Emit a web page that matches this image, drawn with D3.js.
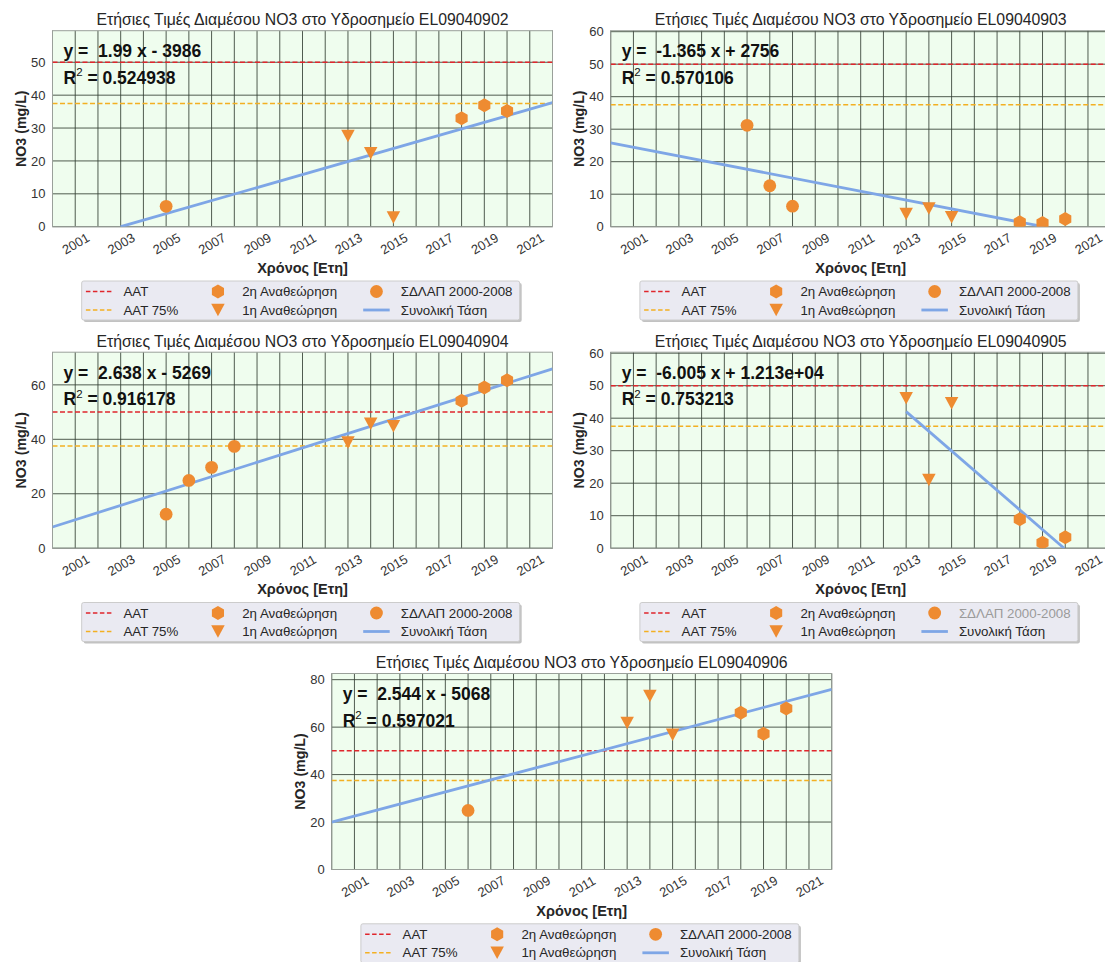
<!DOCTYPE html>
<html>
<head>
<meta charset="utf-8">
<script src="https://cdn.jsdelivr.net/npm/d3@7"></script>
<style>
  body { margin: 0; background: #ffffff; }
  svg { display: block; font-family: "Liberation Sans", Arial, sans-serif; }
</style>
</head>
<body>
<svg id="chart" width="1105" height="962"></svg>
<script>
// ---------------- DATA ----------------
const stations = ["EL09040902", "EL09040903", "EL09040904", "EL09040905", "EL09040906"];
const sdlapYears  = [[2005], [2006, 2007, 2008], [2005, 2006, 2007, 2008], [], [2006]];
const sdlapValues = [[6.2], [31.2, 12.6, 6.3], [12.5, 24.9, 29.7, 37.4], [], [24.9]];
const rev1Years = [2013, 2014, 2015];
const rev1Values = [[27.6, 22.3, 2.8], [3.9, 5.6, 2.9], [38.8, 45.7, 44.8], [46.1, 21.0, 44.6], [61.7, 73.1, 56.8]];
const rev2Years = [2018, 2019, 2020];
const rev2Values = [[33.0, 36.9, 35.2], [1.4, 1.1, 2.4], [54.2, 59.0, 61.7], [8.9, 1.7, 3.4], [66.1, 57.2, 67.8]];
const trendStart = [[2003.0, 0], [2000, 25.8], [2000, 7.8], [2013, 42.0], [2000, 20.0]];
const trendEnd   = [[2022, 37.7], [2019.05, 0], [2022, 65.9], [2019.95, 0], [2022, 75.9]];
const equations = ["y =  1.99 x - 3986", "y =  -1.365 x + 2756", "y =  2.638 x - 5269", "y =  -6.005 x + 1.213e+04", "y =  2.544 x - 5068"];
const r2Values = ["0.524938", "0.570106", "0.916178", "0.753213", "0.597021"];
const yMax = [59.6, 60.3, 72, 60.3, 82.6];
const yTickStep = [10, 10, 20, 10, 20];
const xDomain = [2000, 2022];
const xTickYears = d3.range(2001, 2022, 2);
const gridYears = d3.range(2000, 2023, 1);
const aatLevel = 50;
const aat75Level = 37.5;
const titlePrefix = "Ετήσιες Τιμές Διαμέσου NO3 στο Υδροσημείο ";
const xLabel = "Χρόνος [Ετη]";
const yLabel = "NO3 (mg/L)";
const legendCol1 = ["AAT", "AAT 75%"];
const legendCol2 = ["2η Αναθεώρηση", "1η Αναθεώρηση"];
const legendCol3 = ["ΣΔΛΑΠ 2000-2008", "Συνολική Τάση"];

// ---------------- LAYOUT / STYLE ----------------
const W = 500, H = 196;
const origins = [[52.5, 30.7], [610.7, 30.7], [52.5, 352.2], [610.7, 352.2], [331.7, 673.5]];
const markerColor = "#ee8b31";
const trendColor = "#7ea6e6";
const redColor = "#e0262c";
const orangeColor = "#f3b022";
const FONT = "Liberation Sans, Arial, sans-serif";

const svg = d3.select("#chart");

function hexPath(R) {
  const pts = d3.range(6).map(k => {
    const a = (-90 + k * 60) * Math.PI / 180;
    return [R * Math.cos(a), R * Math.sin(a)];
  });
  return "M" + pts.map(p => p.join(",")).join("L") + "Z";
}
function triDownPath(w, h) {
  return `M${-w/2},${-h/2}L${w/2},${-h/2}L0,${h/2}Z`;
}
const circlePath = d3.symbol().type(d3.symbolCircle).size(Math.PI * 6.4 * 6.4)();
const hexP = hexPath(7);
const triP = triDownPath(13.5, 12.5);

stations.forEach((st, i) => {
  const [ox, oy] = origins[i];
  const g = svg.append("g").attr("transform", `translate(${ox},${oy})`);
  const x = d3.scaleLinear().domain(xDomain).range([0, W]);
  const y = d3.scaleLinear().domain([0, yMax[i]]).range([H, 0]);

  const clipId = "clip" + i;
  g.append("clipPath").attr("id", clipId).append("rect").attr("width", W).attr("height", H);

  g.append("rect").attr("width", W).attr("height", H).attr("fill", "#effdee");

  // vertical grid (every year)
  g.append("g").selectAll("line").data(gridYears).join("line")
    .attr("x1", d => x(d)).attr("x2", d => x(d)).attr("y1", 0).attr("y2", H)
    .attr("stroke", "#354035").attr("stroke-width", 1).attr("opacity", 0.85);

  const yTicks = d3.range(0, yMax[i] + 0.001, yTickStep[i]);
  g.append("g").selectAll("line").data(yTicks).join("line")
    .attr("x1", 0).attr("x2", W).attr("y1", d => y(d)).attr("y2", d => y(d))
    .attr("stroke", "#354035").attr("stroke-width", 1).attr("opacity", 0.85);

  g.append("rect").attr("width", W).attr("height", H).attr("fill", "none")
    .attr("stroke", "#9aa09a").attr("stroke-width", 1);

  const plot = g.append("g").attr("clip-path", `url(#${clipId})`);

  // threshold lines
  plot.append("line").attr("x1", 0).attr("x2", W).attr("y1", y(aatLevel)).attr("y2", y(aatLevel))
    .attr("stroke", redColor).attr("stroke-width", 1.5).attr("stroke-dasharray", "5,2.5");
  plot.append("line").attr("x1", 0).attr("x2", W).attr("y1", y(aat75Level)).attr("y2", y(aat75Level))
    .attr("stroke", orangeColor).attr("stroke-width", 1.5).attr("stroke-dasharray", "5,2.5");

  // trend
  plot.append("path")
    .datum([trendStart[i], trendEnd[i]])
    .attr("d", d3.line().x(d => x(d[0])).y(d => y(d[1])))
    .attr("fill", "none").attr("stroke", trendColor).attr("stroke-width", 2.8);

  // markers
  plot.append("g").selectAll("path").data(sdlapYears[i].map((yr, k) => [yr, sdlapValues[i][k]])).join("path")
    .attr("d", circlePath).attr("transform", d => `translate(${x(d[0])},${y(d[1])})`).attr("fill", markerColor);
  plot.append("g").selectAll("path").data(rev1Years.map((yr, k) => [yr, rev1Values[i][k]])).join("path")
    .attr("d", triP).attr("transform", d => `translate(${x(d[0])},${y(d[1])})`).attr("fill", markerColor);
  plot.append("g").selectAll("path").data(rev2Years.map((yr, k) => [yr, rev2Values[i][k]])).join("path")
    .attr("d", hexP).attr("transform", d => `translate(${x(d[0])},${y(d[1])})`).attr("fill", markerColor);

  // axes
  const yAxis = g.append("g").call(d3.axisLeft(y).tickValues(yTicks).tickSize(0).tickPadding(7).tickFormat(d3.format("d")));
  yAxis.select(".domain").remove();
  yAxis.selectAll("text").attr("font-size", 13).attr("fill", "#333").attr("font-family", FONT);

  const xAxis = g.append("g").attr("transform", `translate(0,${H})`)
    .call(d3.axisBottom(x).tickValues(xTickYears).tickSize(0).tickFormat(d3.format("d")));
  xAxis.select(".domain").remove();
  xAxis.selectAll("text")
    .attr("font-size", 13).attr("fill", "#333").attr("font-family", FONT)
    .attr("y", 0).attr("dy", null)
    .attr("text-anchor", "middle").attr("dominant-baseline", "central")
    .attr("transform", "translate(0,17) rotate(-30)");

  // title
  g.append("text").attr("x", W / 2).attr("y", -5.5).attr("text-anchor", "middle")
    .attr("font-size", 15.8).attr("fill", "#262626").text(titlePrefix + st);
  // axis labels
  g.append("text").attr("x", W / 2).attr("y", H + 46).attr("text-anchor", "middle")
    .attr("font-size", 14.5).attr("font-weight", "bold").attr("fill", "#262626").text(xLabel);
  g.append("text").attr("transform", `translate(-32,${H / 2}) rotate(-90)`).attr("text-anchor", "middle")
    .attr("dominant-baseline", "central")
    .attr("font-size", 14.2).attr("font-weight", "bold").attr("fill", "#262626").text(yLabel);

  // equation
  g.append("text").attr("x", 11).attr("y", 26.6).attr("font-size", 17.5).attr("font-weight", "bold")
    .style("white-space", "pre").attr("fill", "#111").text(equations[i]);
  const r2 = g.append("text").attr("x", 11).attr("y", 53.3).attr("font-size", 17.5).attr("font-weight", "bold")
    .style("white-space", "pre").attr("fill", "#111");
  r2.append("tspan").text("R");
  r2.append("tspan").attr("font-size", 11.5).attr("dy", -7.5).attr("font-weight", "normal").text("2");
  r2.append("tspan").attr("dy", 7.5).text(" = " + r2Values[i]);

  // legend
  const lg = g.append("g").attr("transform", `translate(29.2,${H + 54.3})`);
  const LW = 438, LH = 39;
  lg.append("rect").attr("x", 2).attr("y", 2).attr("width", LW).attr("height", LH).attr("rx", 2)
    .attr("fill", "#9a9a9a").attr("opacity", 0.6);
  lg.append("rect").attr("width", LW).attr("height", LH).attr("rx", 2)
    .attr("fill", "#eaeaf2").attr("stroke", "#cccccc").attr("stroke-width", 1);
  const rowY = [10.5, 29];
  const colX = [4.2, 123, 281.5];
  const hl = 26.5, tOff = 37.5;
  [redColor, orangeColor].forEach((c, r) => {
    lg.append("line").attr("x1", colX[0]).attr("x2", colX[0] + hl).attr("y1", rowY[r]).attr("y2", rowY[r])
      .attr("stroke", c).attr("stroke-width", 1.5).attr("stroke-dasharray", "4.5,2.5");
  });
  lg.append("path").attr("d", hexP).attr("transform", `translate(${colX[1] + hl / 2},${rowY[0]})`).attr("fill", markerColor);
  lg.append("path").attr("d", triP).attr("transform", `translate(${colX[1] + hl / 2},${rowY[1]})`).attr("fill", markerColor);
  lg.append("path").attr("d", circlePath).attr("transform", `translate(${colX[2] + hl / 2},${rowY[0]})`).attr("fill", markerColor);
  lg.append("line").attr("x1", colX[2]).attr("x2", colX[2] + hl).attr("y1", rowY[1]).attr("y2", rowY[1])
    .attr("stroke", trendColor).attr("stroke-width", 2.8);
  const cols = [legendCol1, legendCol2, legendCol3];
  cols.forEach((labels, c) => {
    labels.forEach((lab, r) => {
      const grey = (c === 2 && r === 0 && sdlapYears[i].length === 0);
      lg.append("text").attr("x", colX[c] + tOff).attr("y", rowY[r]).attr("dominant-baseline", "central")
        .attr("font-size", 13.3).attr("fill", grey ? "#9a9a9a" : "#262626").text(lab);
    });
  });
});
</script>
</body>
</html>
